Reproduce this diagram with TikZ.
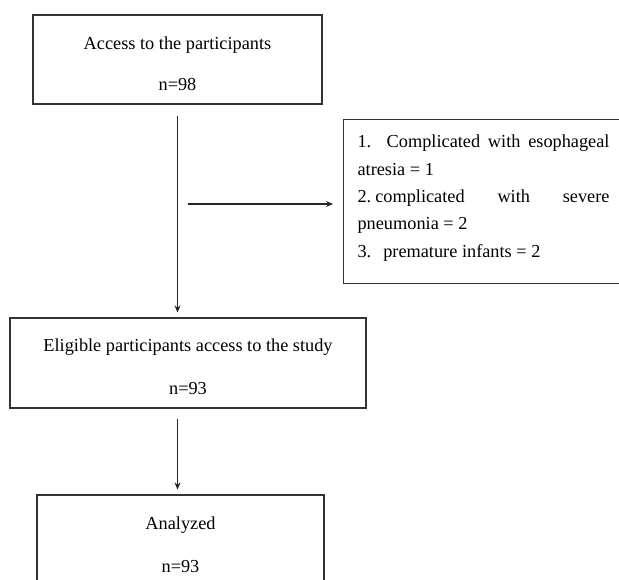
\documentclass[tikz,border=0pt]{standalone}
\usepackage{fontspec}
\setmainfont{Liberation Serif}
\usetikzlibrary{arrows.meta}
\begin{document}
\begin{tikzpicture}[x=1pt,y=1pt,
  box/.style={draw=black!80, line width=1.1pt, inner xsep=0pt, inner ysep=0pt, align=center, font=\fontsize{18.3}{22}\selectfont},
  arr/.style={draw=black!85, line width=1.1pt, -{Stealth[length=7pt,width=6pt]}}]
\useasboundingbox (0,0) rectangle (619,-580);
\clip (0,0) rectangle (619,-580);
\node[box, minimum width=289pt, text height=76pt, text depth=13pt] (b1) at (177.5,-59.5) {Access to the participants\\[19pt]n=98};
\node[box, minimum width=356pt, text height=76pt, text depth=14pt] (b2) at (188,-363) {Eligible participants access to the study\\[21pt]n=93};
\node[box, minimum width=287pt, text height=77pt, text depth=48pt] (b3) at (180.5,-557.5) {Analyzed\\[21pt]n=93};
\node[box, anchor=north west, inner xsep=14pt, align=left, text height=137.5pt, text depth=26.5pt] (ex) at (343,-119) {\makebox[252pt][s]{1.\ \ Complicated with esophageal}\\[5.3pt]
atresia = 1\\[5.3pt]
\makebox[252pt][s]{2.\hspace{4pt}complicated with severe}\\[5.3pt]
pneumonia = 2\\[5.3pt]
3.\hspace{12pt}premature infants = 2};
\coordinate (m) at (177.5,-204);
\draw[arr, shorten <=11pt, shorten >=5pt] (b1.south) -- (b1.south |- b2.north);
\draw[arr, shorten <=10.5pt, shorten >=10pt] (m) -- (m -| ex.west);
\draw[arr, shorten <=10pt, shorten >=5pt] (b2.south -| b1.south) -- (b3.north -| b1.south);
\end{tikzpicture}
\end{document}
